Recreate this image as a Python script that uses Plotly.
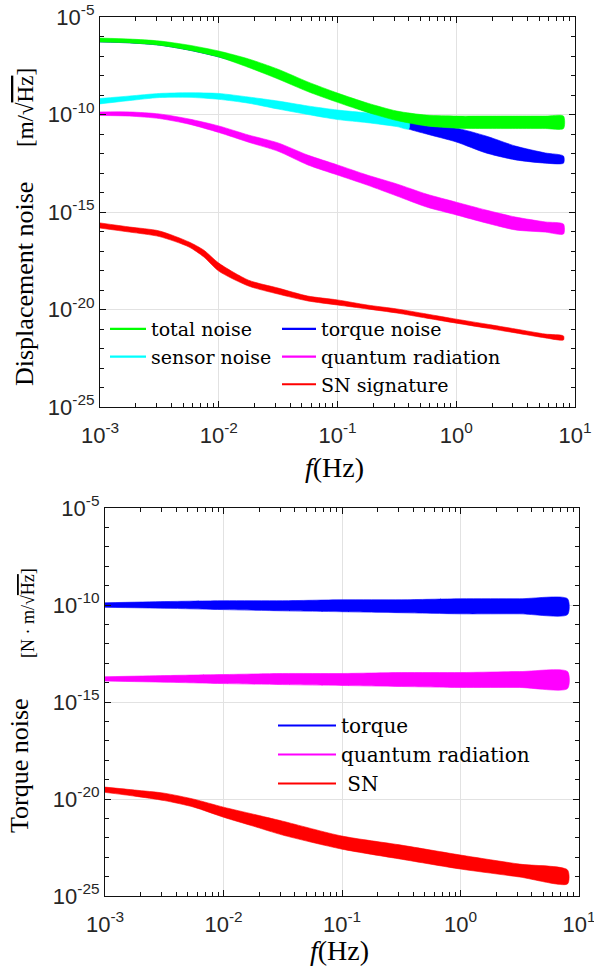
import plotly.graph_objects as go

# ---------------- data ----------------
# Top panel: displacement noise [m/sqrt(Hz)] -- upper / lower edge of each noisy band
f_top = [0.001, 0.00178, 0.00316, 0.00562, 0.01, 0.0178, 0.0316, 0.0562,
         0.1, 0.178, 0.316, 0.562, 1.0, 1.78, 3.16, 5.62, 8.0]
total_hi = [8.3e-7, 7.4e-7, 5.9e-7, 3.6e-7, 1.8e-7, 7.1e-8, 2.1e-8, 4.7e-9,
            1.26e-9, 3.9e-10, 1.5e-10, 9.3e-11, 8.3e-11, 8.3e-11, 8.3e-11, 8.3e-11, 8.3e-11]
total_lo = [5.2e-7, 4.7e-7, 3.6e-7, 2.0e-7, 8.9e-8, 2.6e-8, 6.6e-9, 1.5e-9,
            4.2e-10, 1.3e-10, 4.9e-11, 2.6e-11, 2.0e-11, 1.9e-11, 1.9e-11, 1.9e-11, 1.9e-11]

f_sensor = [0.001, 0.00178, 0.00316, 0.00562, 0.01, 0.0178, 0.0316, 0.0562,
            0.1, 0.178, 0.316, 0.398]
sensor_hi = [6.6e-10, 8.9e-10, 1.2e-9, 1.3e-9, 1.2e-9, 7.9e-10, 4.9e-10, 2.75e-10,
             1.7e-10, 1.2e-10, 7.4e-11, 5.9e-11]
sensor_lo = [3.5e-10, 5.2e-10, 7.4e-10, 7.6e-10, 6.0e-10, 3.8e-10, 1.9e-10, 1.0e-10,
             5.5e-11, 3.8e-11, 2.4e-11, 1.8e-11]

f_torque = [0.001, 0.00178, 0.00316, 0.00562, 0.01, 0.0178, 0.0316, 0.0562,
            0.1, 0.178, 0.316, 0.398, 0.562, 1.0, 1.78, 3.16, 5.62, 8.0]
torque_hi = [7.4e-7, 6.6e-7, 5.2e-7, 3.2e-7, 1.6e-7, 6.2e-8, 1.7e-8, 3.6e-9,
             1.0e-9, 3.1e-10, 8.3e-11, 4.2e-11, 2.6e-11, 2.0e-11, 7.9e-12, 2.4e-12, 1.07e-12, 7.4e-13]
torque_lo = [5.2e-7, 4.7e-7, 3.6e-7, 2.0e-7, 8.9e-8, 3.1e-8, 7.4e-9, 1.8e-9,
             4.9e-10, 1.35e-10, 3.6e-11, 1.8e-11, 1.0e-11, 3.9e-12, 1.07e-12, 4.7e-13, 3.2e-13, 3.2e-13]

quantum_hi = [1.35e-10, 1.35e-10, 1.07e-10, 5.9e-11, 2.6e-11, 8.9e-12, 3.5e-12, 8.3e-13,
              2.6e-13, 7.9e-14, 2.75e-14, 8.3e-15, 3.2e-15, 1.26e-15, 5.5e-16, 3.1e-16, 2.4e-16]
quantum_lo = [8.9e-11, 8.3e-11, 6.2e-11, 3.2e-11, 1.2e-11, 3.8e-12, 1.3e-12, 2.6e-13,
              7.9e-14, 2.4e-14, 6.6e-15, 1.8e-15, 7.1e-16, 2.75e-16, 1.2e-16, 9.3e-17, 7.4e-17]

f_sn_top = [0.001, 0.00178, 0.00316, 0.00562, 0.0075, 0.01, 0.0178, 0.0316, 0.0562,
            0.1, 0.178, 0.316, 0.562, 1.0, 1.78, 3.16, 5.62, 8.0]
sn_hi = [2.75e-16, 1.7e-16, 1.07e-16, 2.9e-17, 1.1e-17, 2.4e-18, 3.2e-19, 1.26e-19, 4.9e-20,
         3.1e-20, 1.7e-20, 1.07e-20, 5.9e-21, 3.2e-21, 1.8e-21, 1.0e-21, 5.5e-22, 4.4e-22]
sn_lo = [1.5e-16, 9.3e-17, 5.5e-17, 1.6e-17, 4.9e-18, 9.3e-19, 1.6e-19, 6.2e-20, 2.75e-20,
         1.7e-20, 1.07e-20, 6.6e-21, 3.6e-21, 2.0e-21, 1.12e-21, 6.3e-22, 3.5e-22, 2.75e-22]

# Bottom panel: torque noise [N m/sqrt(Hz)]
f_bot = [0.001, 0.00316, 0.01, 0.0316, 0.1, 0.316, 1.0, 3.16, 8.0]
torque2_hi = [1.3e-10, 1.5e-10, 1.66e-10, 1.66e-10, 1.86e-10, 1.86e-10, 2.1e-10, 2.1e-10, 2.1e-10]
torque2_lo = [7.6e-11, 6.8e-11, 5.8e-11, 5.0e-11, 4.5e-11, 4.0e-11, 3.5e-11, 3.5e-11, 3.2e-11]
quantum2_hi = [2.0e-14, 2.3e-14, 2.6e-14, 2.95e-14, 2.95e-14, 3.3e-14, 3.3e-14, 3.7e-14, 3.7e-14]
quantum2_lo = [1.2e-14, 1.05e-14, 8.9e-15, 7.9e-15, 7.1e-15, 6.3e-15, 5.6e-15, 5.6e-15, 4.9e-15]

f_sn_bot = [0.001, 0.00178, 0.00316, 0.00562, 0.01, 0.0178, 0.0316, 0.1, 0.316, 1.0, 3.16, 8.0]
sn2_hi = [4.1e-20, 2.9e-20, 2.0e-20, 9.8e-21, 3.8e-21, 1.66e-21, 7.2e-22, 1.23e-22,
          4.2e-23, 1.29e-23, 4.4e-24, 2.2e-24]
sn2_lo = [2.2e-20, 1.4e-20, 8.3e-21, 3.8e-21, 1.15e-21, 4.0e-22, 1.38e-22, 2.6e-23,
          7.9e-24, 2.45e-24, 9.5e-25, 4.2e-25]

x_tick_vals = [1e-3, 1e-2, 1e-1, 1, 10]
x_tick_text = ["10<sup>-3</sup>", "10<sup>-2</sup>", "10<sup>-1</sup>", "10<sup>0</sup>", "10<sup>1</sup>"]
y_tick_vals = [1e-25, 1e-20, 1e-15, 1e-10, 1e-5]
y_tick_text = ["10<sup>-25</sup>", "10<sup>-20</sup>", "10<sup>-15</sup>", "10<sup>-10</sup>", "10<sup>-5</sup>"]

top_legend_a = ["total noise", "sensor noise"]
top_legend_b = ["torque noise", "quantum radiation", "SN signature"]
bot_legend = ["torque", "quantum radiation", " SN"]

# ---------------- style ----------------
GREEN, CYAN, BLUE, MAGENTA, RED = "#00ff00", "#00ffff", "#0000ff", "#ff00ff", "#ff0000"
AX = "#111111"
TICKTXT = "#262626"
GRID = "#e2e2e2"
SANS = "Liberation Sans"
SERIF = "Liberation Serif"
LEGF = "DejaVu Serif"
W, H = 594, 966

minor_x = [k * 10.0 ** d for d in range(-3, 1) for k in range(2, 10)]
minor_y = [10.0 ** e for e in range(-24, -5) if e % 5 != 0]


def band(x, hi, lo, color, xa, ya):
    return go.Scatter(x=list(x) + list(x)[::-1], y=list(hi) + list(lo)[::-1],
                      fill="toself", fillcolor=color, mode="lines",
                      line=dict(color=color, width=0.6, shape="spline", smoothing=0.7),
                      showlegend=False, hoverinfo="skip", xaxis=xa, yaxis=ya)


def legend_entry(name, color, legend):
    return go.Scatter(x=[None], y=[None], mode="lines", name=name,
                      line=dict(color=color, width=2.2), legend=legend,
                      xaxis="x", yaxis="y")


fig = go.Figure()
# top panel
fig.add_trace(band(f_torque, torque_hi, torque_lo, BLUE, "x", "y"))
fig.add_trace(band(f_sensor, sensor_hi, sensor_lo, CYAN, "x", "y"))
fig.add_trace(band(f_top, total_hi, total_lo, GREEN, "x", "y"))
fig.add_trace(band(f_top, quantum_hi, quantum_lo, MAGENTA, "x", "y"))
fig.add_trace(band(f_sn_top, sn_hi, sn_lo, RED, "x", "y"))
# bottom panel
fig.add_trace(band(f_bot, torque2_hi, torque2_lo, BLUE, "x2", "y2"))
fig.add_trace(band(f_bot, quantum2_hi, quantum2_lo, MAGENTA, "x2", "y2"))
fig.add_trace(band(f_sn_bot, sn2_hi, sn2_lo, RED, "x2", "y2"))

# legends
for name, col in zip(top_legend_a, [GREEN, CYAN]):
    fig.add_trace(legend_entry(name, col, "legend"))
for name, col in zip(top_legend_b, [BLUE, MAGENTA, RED]):
    fig.add_trace(legend_entry(name, col, "legend2"))
for name, col in zip(bot_legend, [BLUE, MAGENTA, RED]):
    fig.add_trace(legend_entry(name, col, "legend3"))


def xaxis(domain, anchor):
    return dict(type="log", range=[-3, 1], domain=domain, anchor=anchor, automargin=False,
                showline=True, linecolor=AX, linewidth=1.2, mirror="allticks",
                ticks="inside", ticklen=6, tickcolor=AX, tickwidth=1.1,
                tickmode="array", tickvals=x_tick_vals, ticktext=x_tick_text,
                ticklabelstandoff=8, ticklabeloverflow="allow",
                showgrid=True, gridcolor=GRID, gridwidth=1,
                tickfont=dict(family=SANS, size=22, color=TICKTXT),
                minor=dict(ticks="inside", ticklen=4, tickcolor=AX, tickwidth=1.1,
                           tickmode="array", tickvals=minor_x, showgrid=False),
                zeroline=False, fixedrange=True)


def yaxis(domain, anchor):
    return dict(type="log", range=[-25, -5], domain=domain, anchor=anchor, automargin=False,
                showline=True, linecolor=AX, linewidth=1.2, mirror="allticks",
                ticks="inside", ticklen=6, tickcolor=AX, tickwidth=1.1,
                tickmode="array", tickvals=y_tick_vals, ticktext=y_tick_text,
                ticklabeloverflow="allow",
                showgrid=True, gridcolor=GRID, gridwidth=1,
                tickfont=dict(family=SANS, size=22, color=TICKTXT),
                minor=dict(ticks="inside", ticklen=4, tickcolor=AX, tickwidth=1.1,
                           tickmode="array", tickvals=minor_y, showgrid=False),
                zeroline=False, fixedrange=True)


def px_x(p):
    return p / W


def px_y(p):
    return (H - p) / H


def leg(x, y, itemwidth, size):
    return dict(x=px_x(x), y=px_y(y), itemwidth=itemwidth, bgcolor="rgba(0,0,0,0)",
                borderwidth=0, font=dict(family=LEGF, size=size, color="#000000"),
                xanchor="left", yanchor="top", tracegroupgap=0)


def label(text, x, y, size, angle=0):
    return dict(text=text, x=px_x(x), y=px_y(y), xref="paper", yref="paper",
                textangle=angle, showarrow=False, xanchor="center", yanchor="middle",
                font=dict(family=SERIF, size=size, color="#000000"))


SQRT_HZ = "\u221a<span style='text-decoration:overline'>Hz</span>"

fig.update_layout(
    template="none",
    width=W, height=H, margin=dict(l=0, r=0, t=0, b=0, autoexpand=False),
    paper_bgcolor="white", plot_bgcolor="white",
    xaxis=xaxis([px_x(100), px_x(575)], "y"),
    yaxis=yaxis([px_y(407), px_y(17)], "x"),
    xaxis2=xaxis([px_x(105), px_x(579)], "y2"),
    yaxis2=yaxis([px_y(896), px_y(508)], "x2"),
    legend=leg(105, 310, 36, 19),
    legend2=leg(277, 310, 34, 19),
    legend3=leg(273, 706, 58, 20),
    annotations=[
        label("Displacement noise", 24, 284, 26, -90),
        label("[m/" + SQRT_HZ + "]", 26, 108, 23, -90),
        label("<i>f</i>(Hz)", 334, 467, 28),
        label("Torque noise", 19, 766, 26, -90),
        label("[N \u00b7 m/" + SQRT_HZ + "]", 28, 613, 18, -90),
        label("<i>f</i>(Hz)", 340, 950, 28),
    ],
)

fig.write_html("out.html", config={"displayModeBar": False},
               post_script="document.body.style.margin='0px';")
